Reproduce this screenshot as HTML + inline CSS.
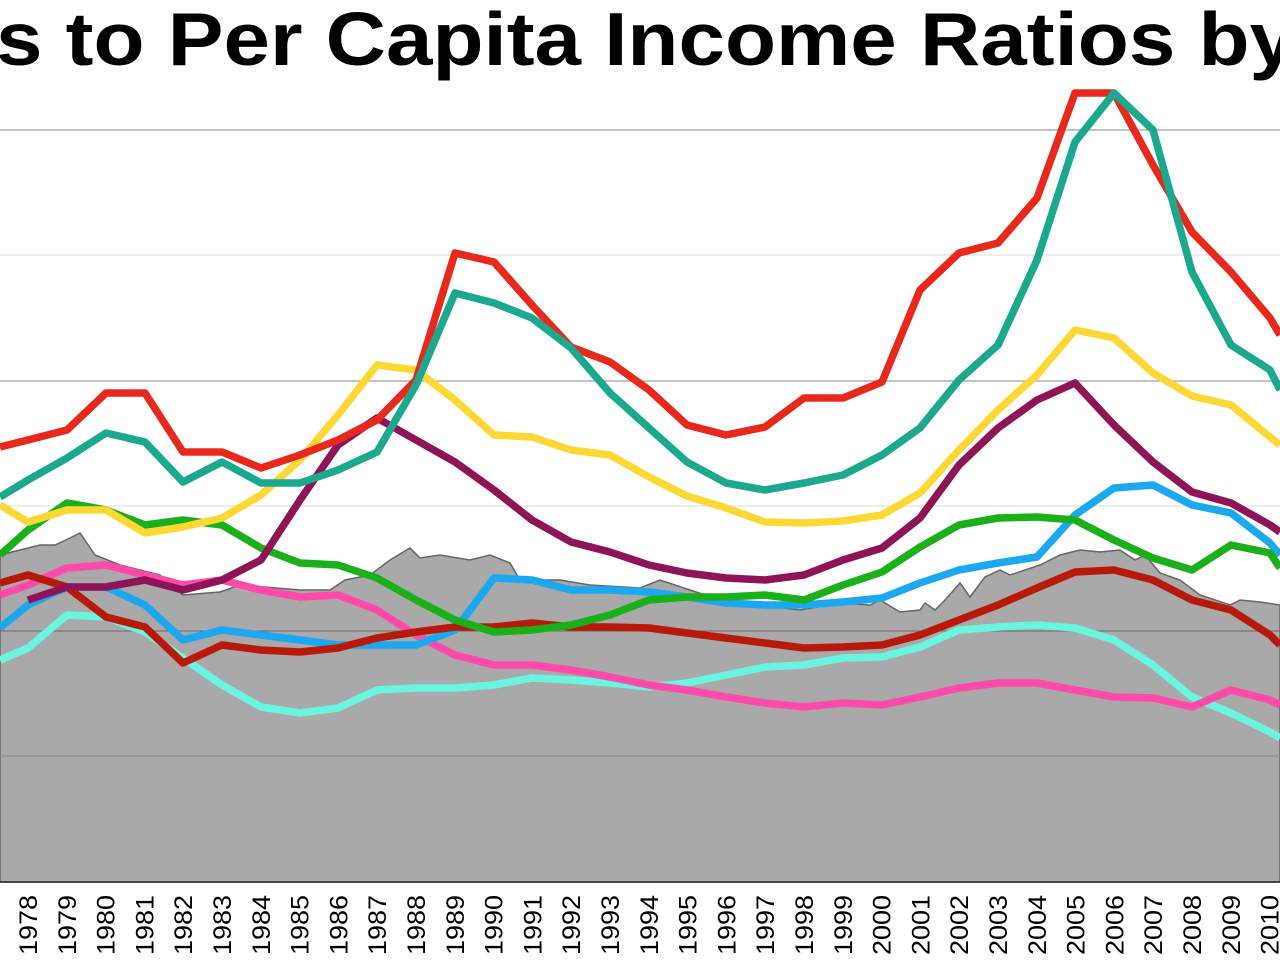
<!DOCTYPE html>
<html><head><meta charset="utf-8"><style>
html,body{margin:0;padding:0;background:#fff;width:1280px;height:960px;overflow:hidden}
</style></head><body>
<svg id="s" width="1280" height="960" xmlns="http://www.w3.org/2000/svg" font-family="Liberation Sans, sans-serif">
<rect width="1280" height="960" fill="#fff"/>
<text x="-4" y="65" font-size="75" font-weight="bold" fill="#000" textLength="1300" lengthAdjust="spacingAndGlyphs">s to Per Capita Income Ratios by</text>
<g stroke="#888" stroke-width="1">
<line x1="0" y1="130" x2="1280" y2="130"/>
<line x1="0" y1="255" x2="1280" y2="255" stroke="#ddd"/>
<line x1="0" y1="381" x2="1280" y2="381"/>
<line x1="0" y1="506" x2="1280" y2="506" stroke="#ddd"/>
</g>
<polygon fill="#a9a9a9" stroke="#666" stroke-width="1.5" points="0,555 20,550 40,545 55,545 70,538 80,533 95,555 120,565 160,575 183,595 220,592 240,585 300,590 330,590 345,580 370,575 390,560 410,548 420,558 440,555 470,560 490,555 510,563 520,580 560,580 590,585 640,588 660,580 690,590 720,600 760,605 800,610 840,603 870,605 880,600 900,612 920,610 925,603 935,610 945,600 960,583 970,597 985,577 1000,570 1010,575 1040,565 1060,555 1080,550 1100,552 1120,550 1135,560 1145,555 1160,573 1180,580 1200,595 1230,605 1240,600 1260,602 1280,605 1280,882 0,882"/>
<line x1="0" y1="631" x2="1280" y2="631" stroke="#666" stroke-width="1"/>
<line x1="0" y1="756" x2="1280" y2="756" stroke="#888" stroke-width="1"/>
<line x1="0" y1="882" x2="1280" y2="882" stroke="#444" stroke-width="2"/>
<g fill="none" stroke-width="7.5" stroke-linejoin="round">
<polyline stroke="#6af5e0" points="0,660 28,648 67,615 106,617 145,632 183,658 222,685 261,707 300,713 338,708 377,690 416,688 455,688 494,685 532,678 571,680 610,683 649,687 687,683 726,675 765,667 804,665 843,658 882,657 920,647 959,630 998,627 1037,625 1075,628 1114,640 1153,665 1192,697 1231,713 1270,732 1280,738"/>
<polyline stroke="#ff4aa8" points="0,595 28,585 67,568 106,565 145,575 183,585 222,580 261,590 300,597 338,595 377,610 416,635 455,655 494,665 532,665 571,670 610,677 649,685 687,690 726,697 765,703 804,707 843,703 882,705 920,697 959,688 998,683 1037,683 1075,690 1114,697 1153,698 1192,707 1231,690 1270,700 1280,705"/>
<polyline stroke="#1aa8f0" points="0,628 28,605 67,587 106,587 145,605 183,640 222,630 261,635 300,640 338,645 377,645 416,645 455,630 494,578 532,580 571,590 610,590 649,592 687,597 726,603 765,605 804,605 843,602 882,598 920,583 959,570 998,563 1037,557 1075,515 1114,488 1153,485 1192,505 1231,513 1270,543 1280,555"/>
<polyline stroke="#b81a0a" points="0,583 28,575 67,587 106,617 145,627 183,663 222,645 261,650 300,652 338,648 377,638 416,632 455,627 494,627 532,623 571,627 610,627 649,628 687,633 726,638 765,643 804,648 843,647 882,645 920,635 959,620 998,605 1037,588 1075,572 1114,570 1153,580 1192,600 1231,610 1270,635 1280,645"/>
<polyline stroke="#1ab01a" points="0,555 28,530 67,503 106,510 145,525 183,520 222,525 261,548 300,563 338,565 377,578 416,600 455,620 494,632 532,630 571,625 610,615 649,600 687,597 726,597 765,595 804,600 843,585 882,572 920,547 959,525 998,518 1037,517 1075,520 1114,540 1153,558 1192,570 1231,545 1270,553 1280,568"/>
<polyline stroke="#8e1457" points="28,600 67,587 106,587 145,580 183,590 222,580 261,560 300,500 338,445 377,418 416,440 455,462 494,490 532,520 571,542 610,552 649,565 687,573 726,578 765,580 804,575 843,560 882,548 920,518 959,465 998,428 1037,400 1075,383 1114,425 1153,462 1192,492 1231,503 1270,525 1280,532"/>
<polyline stroke="#fdd835" points="0,505 28,522 67,510 106,510 145,533 183,527 222,518 261,495 300,460 338,415 377,365 416,370 455,400 494,435 532,437 571,450 610,455 649,477 687,496 726,508 765,522 804,523 843,521 882,515 920,493 959,450 998,410 1037,375 1075,330 1114,338 1153,373 1192,396 1231,405 1270,437 1280,445"/>
<polyline stroke="#e8281a" points="0,447 28,440 67,430 106,393 145,393 183,452 222,452 261,468 300,455 338,440 377,420 416,380 455,253 494,262 532,305 571,347 610,362 649,390 687,425 726,435 765,427 804,398 843,398 882,382 920,290 959,253 998,243 1037,198 1075,93 1114,93 1153,165 1192,232 1231,272 1270,318 1280,335"/>
<polyline stroke="#1aa88e" points="0,497 28,480 67,458 106,433 145,442 183,482 222,462 261,483 300,483 338,470 377,452 416,385 455,293 494,303 532,318 571,348 610,393 649,428 687,462 726,483 765,490 804,483 843,475 882,455 920,428 959,380 998,345 1037,260 1075,142 1114,93 1153,130 1192,272 1231,345 1270,370 1280,390"/>
</g>
<g id="lbl" font-size="25" fill="#000"></g>
</svg>
<script>
var g=document.getElementById('lbl'),h='';
for(var i=0;i<33;i++){var x=28+38.8*i+9;h+='<text transform="translate('+x.toFixed(1)+',895) rotate(-90)" text-anchor="end" textLength="60" lengthAdjust="spacingAndGlyphs">'+(1978+i)+'</text>';}
g.innerHTML=h;
</script>
</body></html>
